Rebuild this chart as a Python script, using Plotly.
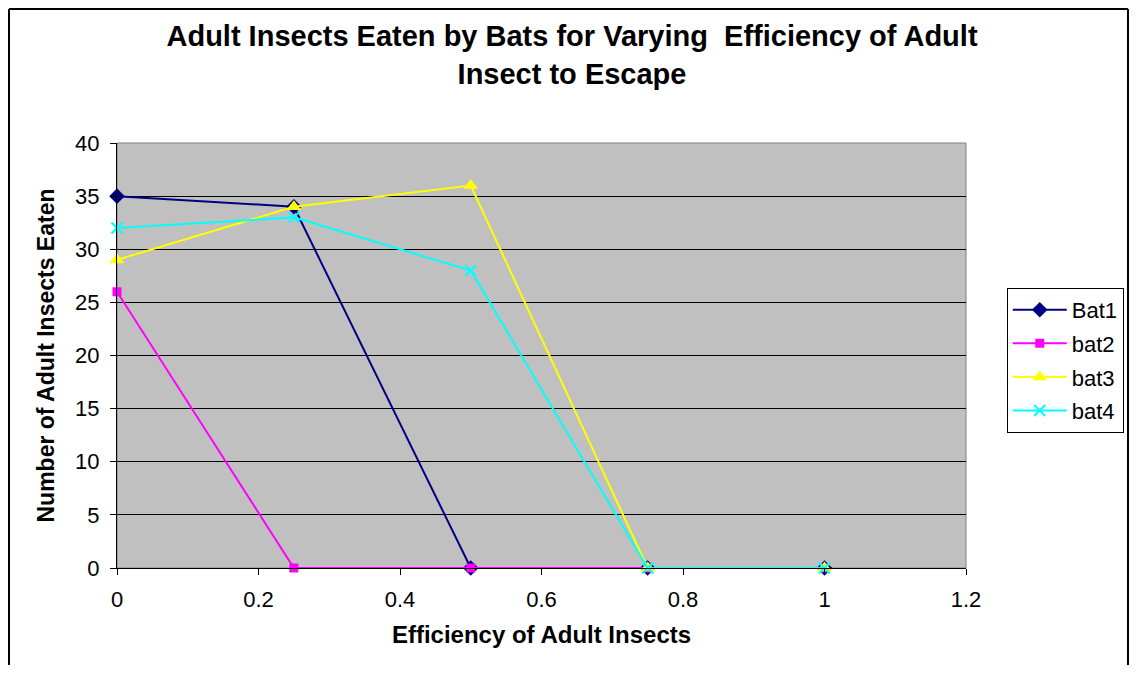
import plotly.graph_objects as go

# efficiency of adult insects to escape
efficiency = [0, 0.25, 0.5, 0.75, 1]

bat1 = [35, 34, 0, 0, 0]
bat2 = [26, 0, 0, 0, 0]
bat3 = [29, 34, 36, 0, 0]
bat4 = [32, 33, 28, 0, 0]

series_names = ['Bat1', 'bat2', 'bat3', 'bat4']

FONT = 'Liberation Sans, Arial, sans-serif'

fig = go.Figure()
fig.add_trace(go.Scatter(
    x=efficiency, y=bat1, name=series_names[0], mode='lines+markers',
    legendgroup='g1', cliponaxis=False,
    line=dict(color='#000080', width=2),
    marker=dict(symbol='diamond', size=12, color='#000080'),
))
fig.add_trace(go.Scatter(
    x=efficiency, y=bat2, name=series_names[1], mode='lines+markers',
    legendgroup='g2', cliponaxis=False,
    line=dict(color='#FF00FF', width=2),
    marker=dict(symbol='square', size=9, color='#FF00FF'),
))
fig.add_trace(go.Scatter(
    x=efficiency, y=bat3, name=series_names[2], mode='lines+markers',
    legendgroup='g3', cliponaxis=False,
    line=dict(color='#FFFF00', width=2),
    marker=dict(symbol='triangle-up', size=13, color='#FFFF00'),
))
fig.add_trace(go.Scatter(
    x=efficiency, y=bat4, name=series_names[3], mode='lines+markers',
    legendgroup='g4', cliponaxis=False,
    line=dict(color='#00FFFF', width=2),
    marker=dict(symbol='x-thin-open', size=11, line=dict(color='#00FFFF', width=2)),
))

# plot area border (gray top / right)
fig.add_shape(type='rect', xref='paper', yref='paper', x0=0, x1=1, y0=0, y1=1,
              line=dict(color='#808080', width=1), layer='below')
# outer chart frame: left, top, right edges (bottom falls outside the picture)
frame_left, frame_right, frame_top, frame_bottom = -0.1272, 1.1908, 1.3153, -0.3
fig.add_shape(type='line', xref='paper', yref='paper',
              x0=frame_left, x1=frame_left, y0=frame_bottom, y1=frame_top,
              line=dict(color='black', width=2))
fig.add_shape(type='line', xref='paper', yref='paper',
              x0=frame_left, x1=frame_right, y0=frame_top, y1=frame_top,
              line=dict(color='black', width=2))
fig.add_shape(type='line', xref='paper', yref='paper',
              x0=frame_right, x1=frame_right, y0=frame_bottom, y1=frame_top,
              line=dict(color='black', width=2))

fig.update_layout(
    width=1122,
    height=657,
    autosize=False,
    margin=dict(l=109, r=164, t=135, b=97, autoexpand=False),
    paper_bgcolor='white',
    plot_bgcolor='#C0C0C0',
    font=dict(family=FONT, size=22, color='black'),
    title=dict(
        text='<b>Adult Insects Eaten by Bats for Varying  Efficiency of Adult<br>Insect to Escape</b>',
        x=0.5027, xanchor='center', y=0.942, yanchor='middle',
        font=dict(size=29, family=FONT),
    ),
    showlegend=True,
    legend=dict(
        x=1.048, y=0.659, xanchor='left', yanchor='top',
        bordercolor='black', borderwidth=1, bgcolor='white',
        font=dict(size=22, family=FONT),
        tracegroupgap=2,
        itemwidth=54,
    ),
)
fig.update_xaxes(
    range=[0, 1.2], dtick=0.2, tick0=0,
    showgrid=False, zeroline=False,
    showline=True, linecolor='black', linewidth=1,
    ticks='outside', ticklen=6, tickcolor='black',
    tickfont=dict(size=22), ticklabelstandoff=6,
    title=dict(text='<b>Efficiency of Adult Insects</b>', font=dict(size=24), standoff=14),
)
fig.update_yaxes(
    range=[0, 40], dtick=5, tick0=0,
    showgrid=True, gridcolor='black', gridwidth=1,
    zeroline=False,
    showline=True, linecolor='black', linewidth=1,
    ticks='outside', ticklen=6, tickcolor='black',
    tickfont=dict(size=22), ticklabelstandoff=6,
    title=dict(text='<b>Number of Adult Insects Eaten</b>', font=dict(size=23), standoff=14),
)

fig.write_html("out.html")
